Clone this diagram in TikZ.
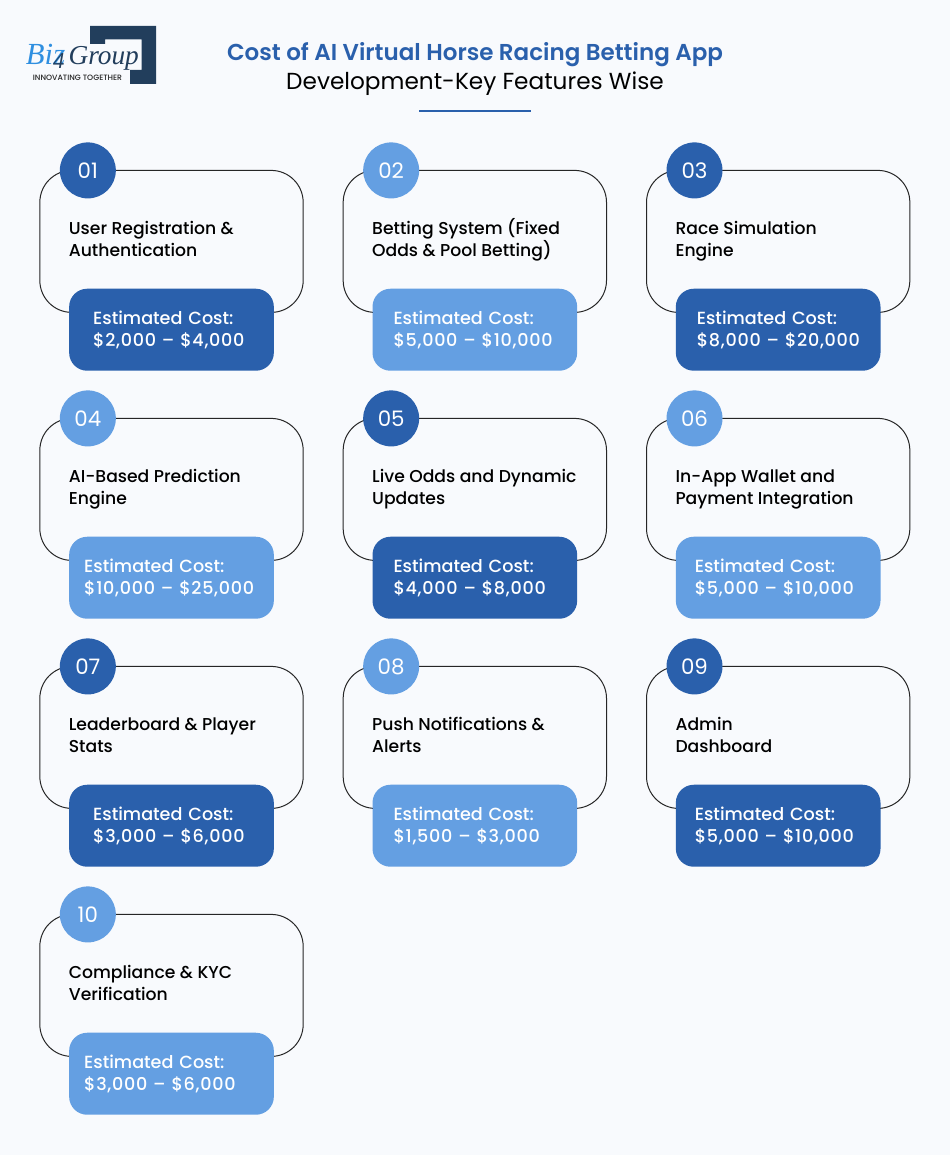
\documentclass[tikz,border=0pt]{standalone}
\usepackage{fontspec}
\usepackage{xcolor}
\setmainfont{Poppins}
\newfontfamily\logofont{Liberation Serif}
\newfontfamily\mediumfont{Poppins Medium}
\newfontfamily\headfont{Poppins SemiBold}
\newfontfamily\amountfont[LetterSpace=4]{Poppins Medium}
\newcommand{\costtext}[2]{\hspace*{#1}Estimated Cost:\\\hspace*{#1}{\amountfont #2}}
\definecolor{pagebg}{HTML}{F8FAFD}
\definecolor{darkblue}{HTML}{2A60AC}
\definecolor{lightblue}{HTML}{649FE2}
\definecolor{logonavy}{HTML}{223E5C}
\definecolor{logoblue}{HTML}{2F8FE0}
\usetikzlibrary{positioning}

\begin{document}
\begin{tikzpicture}[x=0.75pt,y=-0.75pt,node distance=79.5pt and 30pt,outer sep=0pt,
    card/.style={draw=black!85,line width=0.75pt,minimum width=197.5pt,minimum height=106.5pt,rounded corners=24pt,inner sep=0pt},
    num/.style={circle,minimum size=42pt,inner sep=0pt,text=white,font=\fontsize{16}{16}\selectfont,xshift=36pt},
    numdark/.style={num,fill=darkblue},
    numlight/.style={num,fill=lightblue},
    feature/.style={anchor=base west,align=left,inner sep=0pt,xshift=21.75pt,yshift=-11.25pt,text=black,font=\mediumfont\fontsize{12.9}{16.5}\selectfont},
    cost/.style={anchor=north,yshift=17.75pt,text width=153.5pt,minimum height=61.5pt,rounded corners=13.5pt,inner sep=0pt,align=left,text=white,font=\mediumfont\fontsize{13.2}{16.5}\selectfont},
    costdark/.style={cost,fill=darkblue},
    costlight/.style={cost,fill=lightblue}]

    \useasboundingbox (0,0) rectangle (950,1155);
    \fill[pagebg] (0,0) rectangle (950,1155);

    % logo
    \fill[logonavy] (90,26) -- (156,26) -- (156,84) -- (130,84) -- (130,70) -- (141.5,70)
        -- (141.5,39.5) -- (105,39.5) -- (105,44) -- (90,44) -- cycle;
    \node[anchor=base west,inner sep=0pt,font=\logofont\itshape] (logo) at (26,65)
        {{\fontsize{23}{23}\selectfont\textcolor{logoblue}{Biz}}\kern-9pt\raisebox{-3pt}{\fontsize{17}{17}\selectfont\textcolor{logonavy}{4}}\kern3pt{\fontsize{20.5}{22}\selectfont\textcolor{logonavy}{Group}}};
    \node[inner sep=0pt,text=black!85,font=\mediumfont\fontsize{5.8}{6}\selectfont] (slogan) at (77.5,78) {INNOVATING TOGETHER};

    % heading
    \node[text=darkblue,font=\headfont\fontsize{17.25}{18}\selectfont] (title) at (475,55) {Cost of AI Virtual Horse Racing Betting App};
    \node[text=black,font=\fontsize{17.4}{18}\selectfont] (subtitle) at (475,84) {Development-Key Features Wise};
    \coordinate (ruleL) at (419,111);
    \coordinate (ruleR) at (531,111);
    \draw[darkblue,line width=1.5pt] (ruleL) -- (ruleR);

    % cards
    \node[card]                (c1) at (171.5,241.4) {};
    \node[card, right=of c1]   (c2) {};
    \node[card, right=of c2]   (c3) {};
    \node[card, below=of c1]   (c4) {};
    \node[card, right=of c4]   (c5) {};
    \node[card, right=of c5]   (c6) {};
    \node[card, below=of c4]   (c7) {};
    \node[card, right=of c7]   (c8) {};
    \node[card, right=of c8]   (c9) {};
    \node[card, below=of c7]   (c10) {};

    % numbers
    \node[numdark]  (n1)  at (c1.north west)  {01};
    \node[numlight] (n2)  at (c2.north west)  {02};
    \node[numdark]  (n3)  at (c3.north west)  {03};
    \node[numlight] (n4)  at (c4.north west)  {04};
    \node[numdark]  (n5)  at (c5.north west)  {05};
    \node[numlight] (n6)  at (c6.north west)  {06};
    \node[numdark]  (n7)  at (c7.north west)  {07};
    \node[numlight] (n8)  at (c8.north west)  {08};
    \node[numdark]  (n9)  at (c9.north west)  {09};
    \node[numlight] (n10) at (c10.north west) {10};

    % features
    \node[feature] (f1)  at (c1.west)  {User Registration \&\\Authentication};
    \node[feature] (f2)  at (c2.west)  {Betting System (Fixed\\Odds \& Pool Betting)};
    \node[feature] (f3)  at (c3.west)  {Race Simulation\\Engine};
    \node[feature] (f4)  at (c4.west)  {AI-Based Prediction\\Engine};
    \node[feature] (f5)  at (c5.west)  {Live Odds and Dynamic\\Updates};
    \node[feature] (f6)  at (c6.west)  {In-App Wallet and\\Payment Integration};
    \node[feature] (f7)  at (c7.west)  {Leaderboard \& Player\\Stats};
    \node[feature] (f8)  at (c8.west)  {Push Notifications \&\\Alerts};
    \node[feature] (f9)  at (c9.west)  {Admin\\Dashboard};
    \node[feature] (f10) at (c10.west) {Compliance \& KYC\\Verification};

    % costs
    \node[costdark]  (p1)  at (c1.south)  {\costtext{18pt}{\$2,000 – \$4,000}};
    \node[costlight] (p2)  at (c2.south)  {\costtext{15.75pt}{\$5,000 – \$10,000}};
    \node[costdark]  (p3)  at (c3.south)  {\costtext{15.75pt}{\$8,000 – \$20,000}};
    \node[costlight] (p4)  at (c4.south)  {\costtext{11.25pt}{\$10,000 – \$25,000}};
    \node[costdark]  (p5)  at (c5.south)  {\costtext{15.75pt}{\$4,000 – \$8,000}};
    \node[costlight] (p6)  at (c6.south)  {\costtext{14.25pt}{\$5,000 – \$10,000}};
    \node[costdark]  (p7)  at (c7.south)  {\costtext{18pt}{\$3,000 – \$6,000}};
    \node[costlight] (p8)  at (c8.south)  {\costtext{15.75pt}{\$1,500 – \$3,000}};
    \node[costdark]  (p9)  at (c9.south)  {\costtext{14.25pt}{\$5,000 – \$10,000}};
    \node[costlight] (p10) at (c10.south) {\costtext{11.25pt}{\$3,000 – \$6,000}};
\end{tikzpicture}
\end{document}
